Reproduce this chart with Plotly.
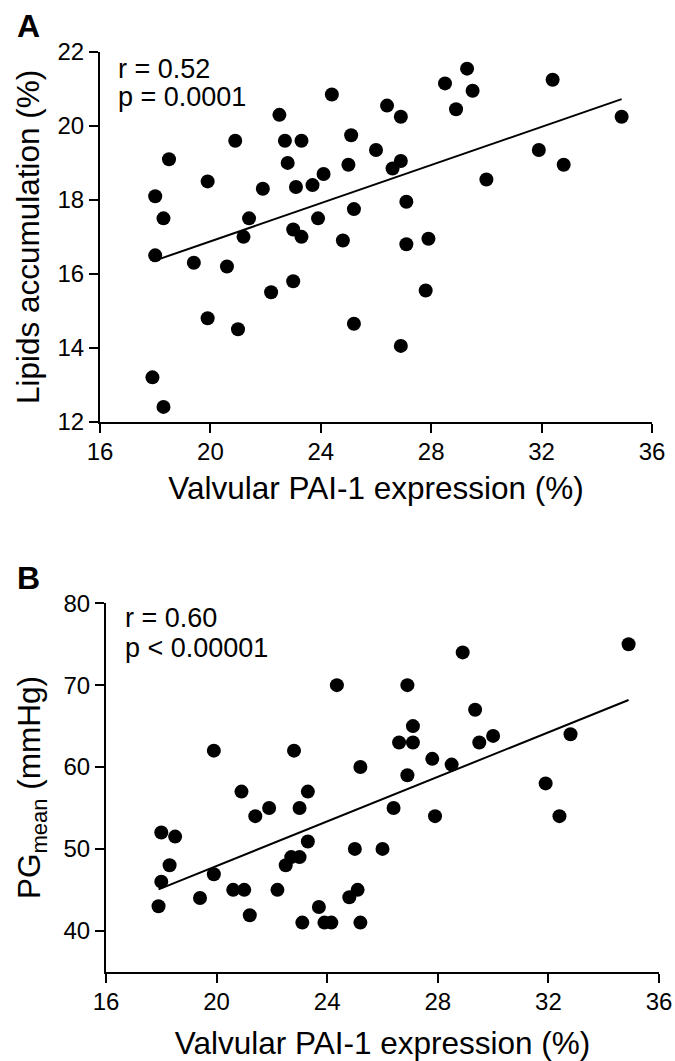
import numpy as np
import plotly.graph_objects as go

# ---------------- data ----------------
# Panel A: valvular PAI-1 expression (%) vs lipids accumulation (%)
pai_a = [24.4, 22.5, 20.9, 22.7, 23.3, 18.5, 22.8, 24.1, 19.9, 23.1, 23.7, 21.9, 18.0,
         18.3, 21.4, 23.9, 23.0, 23.3, 21.2, 24.8, 18.0, 19.4, 20.6, 23.0, 22.2, 19.9,
         21.0, 17.9, 18.3, 29.3, 32.4, 28.5, 29.5, 28.9, 26.4, 26.9, 34.9, 25.1, 26.0,
         31.9, 25.0, 26.9, 26.6, 32.8, 30.0, 25.2, 27.1, 27.1, 27.9, 27.8, 25.2, 26.9]
lipids = [20.85, 20.3, 19.6, 19.6, 19.6, 19.1, 19.0, 18.7, 18.5, 18.35, 18.4, 18.3, 18.1,
          17.5, 17.5, 17.5, 17.2, 17.0, 17.0, 16.9, 16.5, 16.3, 16.2, 15.8, 15.5, 14.8,
          14.5, 13.2, 12.4, 21.55, 21.25, 21.15, 20.95, 20.45, 20.55, 20.25, 20.25, 19.75, 19.35,
          19.35, 18.95, 19.05, 18.85, 18.95, 18.55, 17.75, 17.95, 16.8, 16.95, 15.55, 14.65, 14.05]

# Panel B: valvular PAI-1 expression (%) vs PG mean (mmHg)
pai_b = [24.35, 19.9, 22.8, 20.9, 23.3, 21.9, 21.4, 23.0, 18.0, 18.5, 23.3, 18.3, 19.9,
         18.0, 22.5, 22.7, 23.0, 20.6, 21.0, 22.2, 19.4, 17.9, 21.2, 23.1, 23.7, 23.9,
         24.15, 28.9, 34.9, 26.9, 29.35, 27.1, 26.6, 27.1, 29.5, 30.0, 32.8, 25.2, 27.8,
         28.5, 26.9, 31.9, 26.4, 27.9, 32.4, 25.0, 26.0, 25.1, 24.8, 25.2]
pg_mean = [70, 62, 62, 57, 57, 55, 54, 55, 52, 51.5, 50.9, 48, 46.9,
           46, 48, 49, 49, 45, 45, 45, 44, 43, 41.9, 41, 42.9, 41,
           41, 74, 75, 70, 67, 65, 63, 63, 63, 63.8, 64, 60, 61,
           60.3, 59, 58, 55, 54, 54, 50, 50, 45, 44.1, 41]

x_ticks = [16, 20, 24, 28, 32, 36]
ya_ticks = [12, 14, 16, 18, 20, 22]
yb_ticks = [40, 50, 60, 70, 80]

stats_a = ["r = 0.52", "p = 0.0001"]
stats_b = ["r = 0.60", "p < 0.00001"]
x_title = "Valvular PAI-1 expression (%)"
ya_title = "Lipids accumulation (%)"
yb_title = "PG<sub>mean</sub> (mmHg)"

# ---------------- figure ----------------
OFF = 0  # page body margin is removed below, so the figure starts at (0, 0)
W, H = 675, 1061
FONT = "Liberation Sans, Arial, Helvetica, sans-serif"


def fx(px):
    return (px - OFF) / W


def fy(py):
    return 1 - (py - OFF) / H


def fit_line(x, y):
    x = np.asarray(x, float)
    y = np.asarray(y, float)
    k, b = np.polyfit(x, y, 1)
    xs = np.array([x.min(), x.max()])
    return xs, k * xs + b


fig = go.Figure()

xa_fit, ya_fit = fit_line(pai_a, lipids)
fig.add_trace(go.Scatter(x=xa_fit, y=ya_fit, mode="lines",
                         line=dict(color="black", width=2),
                         xaxis="x", yaxis="y", hoverinfo="skip"))
fig.add_trace(go.Scatter(x=pai_a, y=lipids, mode="markers",
                         marker=dict(size=14, color="black"),
                         xaxis="x", yaxis="y", cliponaxis=False))

xb_fit, yb_fit = fit_line(pai_b, pg_mean)
fig.add_trace(go.Scatter(x=xb_fit, y=yb_fit, mode="lines",
                         line=dict(color="black", width=2),
                         xaxis="x2", yaxis="y2", hoverinfo="skip"))
fig.add_trace(go.Scatter(x=pai_b, y=pg_mean, mode="markers",
                         marker=dict(size=14, color="black"),
                         xaxis="x2", yaxis="y2", cliponaxis=False))

axis_common = dict(showline=True, linecolor="black", linewidth=2,
                   ticks="outside", ticklen=9, tickwidth=2, tickcolor="black",
                   showgrid=False, zeroline=False, automargin=False,
                   ticklabeloverflow="allow",
                   tickfont=dict(size=24, color="black", family=FONT))

TITLE_SIZE = 31.5

fig.update_layout(
    width=W, height=H,
    margin=dict(l=0, r=0, t=0, b=0),
    paper_bgcolor="white", plot_bgcolor="white",
    showlegend=False,
    font=dict(family=FONT, color="black"),
    xaxis=dict(domain=[fx(100), fx(652)], range=[16, 36], tickvals=x_ticks,
               anchor="y", ticklabelstandoff=-2,
               title=dict(text=x_title, font=dict(size=TITLE_SIZE), standoff=13),
               **axis_common),
    yaxis=dict(domain=[fy(421.7), fy(52)], range=[12, 22], tickvals=ya_ticks,
               anchor="x",
               title=dict(text=ya_title, font=dict(size=TITLE_SIZE), standoff=8),
               **axis_common),
    xaxis2=dict(domain=[fx(106), fx(659)], range=[16, 36], tickvals=x_ticks,
                anchor="y2", ticklabelstandoff=-2,
                title=dict(text=x_title, font=dict(size=TITLE_SIZE), standoff=20),
                **axis_common),
    yaxis2=dict(domain=[fy(971.7), fy(603.3)], range=[35, 80], tickvals=yb_ticks,
                anchor="x2",
                title=dict(text=yb_title, font=dict(size=TITLE_SIZE), standoff=13),
                **axis_common),
)

ann = []
ann.append(dict(text="<b>A</b>", x=fx(15), y=fy(26.5), xref="paper", yref="paper",
                xanchor="left", yanchor="middle", showarrow=False,
                font=dict(size=32, family=FONT, color="black")))
ann.append(dict(text="<b>B</b>", x=fx(15), y=fy(578), xref="paper", yref="paper",
                xanchor="left", yanchor="middle", showarrow=False,
                font=dict(size=32, family=FONT, color="black")))
for t, yc in zip(stats_a, [68.7, 97]):
    ann.append(dict(text=t, x=fx(116), y=fy(yc), xref="paper", yref="paper",
                    xanchor="left", yanchor="middle", showarrow=False,
                    font=dict(size=27, family=FONT, color="black")))
for t, yc in zip(stats_b, [618, 648]):
    ann.append(dict(text=t, x=fx(123), y=fy(yc), xref="paper", yref="paper",
                    xanchor="left", yanchor="middle", showarrow=False,
                    font=dict(size=27, family=FONT, color="black")))
fig.update_layout(annotations=ann)

fig.write_html(
    "out.html",
    config={"displayModeBar": False},
    post_script="document.body.style.margin='0';document.body.style.overflow='hidden';",
)
